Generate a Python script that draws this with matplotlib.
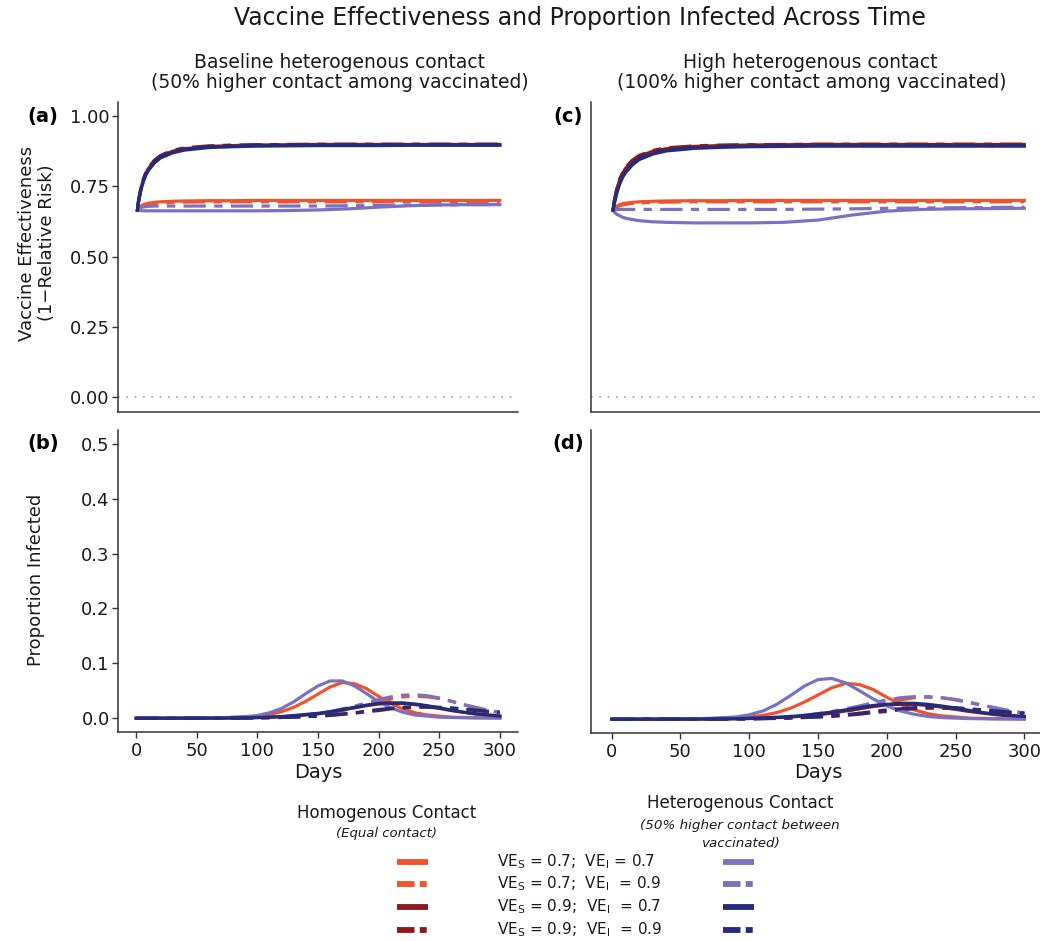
import numpy as np
import matplotlib
matplotlib.use("Agg")
import matplotlib.pyplot as plt

plt.rcParams['font.family'] = ['DejaVu Sans']
plt.rcParams['mathtext.fontset'] = 'dejavusans'

# ---------------- data ----------------
days_ve = [1, 2, 4, 6, 8, 10, 15, 20, 30, 40, 60, 80, 100, 125, 150, 175, 200, 225, 250, 275, 300]

# homogenous contact (same in both columns)
ve_hom_77 = [0.665, 0.672, 0.680, 0.685, 0.688, 0.690, 0.693, 0.695, 0.697, 0.698, 0.699, 0.699, 0.700, 0.700, 0.700, 0.700, 0.700, 0.700, 0.700, 0.700, 0.700]
ve_hom_79 = [0.665, 0.670, 0.677, 0.681, 0.684, 0.686, 0.689, 0.691, 0.693, 0.694, 0.695, 0.695, 0.695, 0.695, 0.695, 0.695, 0.695, 0.695, 0.695, 0.695, 0.695]
ve_hom_97 = [0.665, 0.700, 0.745, 0.775, 0.797, 0.813, 0.840, 0.857, 0.875, 0.884, 0.892, 0.895, 0.897, 0.898, 0.899, 0.899, 0.899, 0.899, 0.899, 0.899, 0.899]
ve_hom_99 = [0.665, 0.702, 0.748, 0.778, 0.800, 0.816, 0.843, 0.860, 0.878, 0.887, 0.894, 0.897, 0.898, 0.899, 0.900, 0.900, 0.900, 0.900, 0.900, 0.900, 0.900]

# heterogenous contact, baseline (panel a)
ve_base_77 = [0.665, 0.664, 0.664, 0.663, 0.663, 0.663, 0.663, 0.663, 0.663, 0.663, 0.663, 0.663, 0.663, 0.664, 0.666, 0.670, 0.676, 0.681, 0.684, 0.685, 0.685]
ve_base_79 = [0.665, 0.670, 0.675, 0.677, 0.678, 0.679, 0.680, 0.680, 0.680, 0.680, 0.680, 0.680, 0.680, 0.680, 0.680, 0.681, 0.682, 0.683, 0.684, 0.685, 0.685]
ve_base_97 = [0.665, 0.695, 0.738, 0.768, 0.790, 0.806, 0.833, 0.851, 0.869, 0.879, 0.888, 0.891, 0.893, 0.894, 0.895, 0.895, 0.895, 0.896, 0.896, 0.896, 0.896]
ve_base_99 = [0.665, 0.698, 0.742, 0.772, 0.794, 0.810, 0.837, 0.855, 0.873, 0.883, 0.891, 0.894, 0.896, 0.897, 0.898, 0.898, 0.898, 0.898, 0.898, 0.898, 0.898]

# heterogenous contact, high (panel c)
ve_high_77 = [0.665, 0.658, 0.650, 0.645, 0.640, 0.637, 0.632, 0.628, 0.624, 0.622, 0.620, 0.620, 0.620, 0.622, 0.630, 0.648, 0.662, 0.668, 0.670, 0.671, 0.672]
ve_high_79 = [0.665, 0.667, 0.668, 0.668, 0.668, 0.668, 0.668, 0.668, 0.668, 0.668, 0.668, 0.668, 0.668, 0.668, 0.669, 0.670, 0.672, 0.673, 0.674, 0.675, 0.676]
ve_high_97 = [0.665, 0.690, 0.730, 0.760, 0.782, 0.798, 0.826, 0.845, 0.865, 0.876, 0.885, 0.889, 0.891, 0.892, 0.893, 0.893, 0.893, 0.893, 0.893, 0.893, 0.893]
ve_high_99 = [0.665, 0.693, 0.735, 0.765, 0.787, 0.803, 0.831, 0.850, 0.869, 0.880, 0.888, 0.891, 0.893, 0.894, 0.895, 0.895, 0.895, 0.895, 0.895, 0.895, 0.895]

days_inf = [0, 40, 70, 90, 100, 110, 120, 130, 140, 150, 160, 170, 180, 190, 200, 210, 220, 230, 240, 250, 260, 270, 280, 290, 300]

inf_hom_77 = [0, 0.0002, 0.0008, 0.002, 0.004, 0.007, 0.012, 0.020, 0.031, 0.044, 0.057, 0.065, 0.063, 0.054, 0.040, 0.027, 0.017, 0.010, 0.006, 0.004, 0.002, 0.0015, 0.001, 0.0007, 0.0005]
inf_hom_79 = [0, 0.0001, 0.0003, 0.0006, 0.001, 0.0015, 0.002, 0.003, 0.005, 0.007, 0.010, 0.014, 0.019, 0.024, 0.030, 0.035, 0.039, 0.040, 0.039, 0.036, 0.031, 0.025, 0.020, 0.015, 0.011]
inf_hom_97 = [0, 0.0001, 0.0004, 0.0008, 0.0012, 0.002, 0.003, 0.004, 0.006, 0.008, 0.011, 0.015, 0.019, 0.023, 0.026, 0.027, 0.027, 0.025, 0.022, 0.018, 0.014, 0.011, 0.008, 0.006, 0.004]
inf_hom_99 = [0, 0.0001, 0.0002, 0.0004, 0.0006, 0.001, 0.0014, 0.002, 0.003, 0.004, 0.005, 0.007, 0.009, 0.012, 0.014, 0.017, 0.019, 0.020, 0.020, 0.019, 0.018, 0.016, 0.014, 0.012, 0.010]

inf_base_77 = [0, 0.0002, 0.001, 0.003, 0.005, 0.010, 0.018, 0.030, 0.045, 0.059, 0.068, 0.068, 0.059, 0.045, 0.030, 0.019, 0.011, 0.006, 0.004, 0.002, 0.0015, 0.001, 0.0007, 0.0005, 0.0004]
inf_base_79 = [0, 0.0001, 0.0004, 0.0008, 0.0012, 0.002, 0.003, 0.004, 0.006, 0.009, 0.012, 0.017, 0.022, 0.028, 0.034, 0.039, 0.042, 0.043, 0.041, 0.037, 0.031, 0.025, 0.019, 0.014, 0.010]
inf_base_97 = [0, 0.0001, 0.0004, 0.0009, 0.0014, 0.002, 0.003, 0.005, 0.007, 0.009, 0.012, 0.016, 0.020, 0.024, 0.027, 0.028, 0.028, 0.026, 0.023, 0.019, 0.015, 0.011, 0.008, 0.006, 0.004]
inf_base_99 = [0, 0.0001, 0.0002, 0.0005, 0.0007, 0.0011, 0.0016, 0.0023, 0.003, 0.004, 0.006, 0.008, 0.010, 0.013, 0.016, 0.018, 0.020, 0.021, 0.021, 0.020, 0.019, 0.017, 0.015, 0.013, 0.011]

inf_high_77 = [0, 0.0003, 0.0015, 0.004, 0.008, 0.015, 0.027, 0.043, 0.060, 0.072, 0.074, 0.066, 0.052, 0.037, 0.024, 0.015, 0.009, 0.005, 0.003, 0.002, 0.0012, 0.0008, 0.0005, 0.0004, 0.0003]
inf_high_79 = [0, 0.0001, 0.0005, 0.001, 0.0015, 0.0025, 0.0035, 0.005, 0.007, 0.010, 0.014, 0.019, 0.024, 0.030, 0.035, 0.039, 0.041, 0.041, 0.039, 0.035, 0.030, 0.025, 0.020, 0.015, 0.011]
inf_high_97 = [0, 0.0001, 0.0005, 0.001, 0.0016, 0.0025, 0.0035, 0.005, 0.007, 0.010, 0.013, 0.017, 0.021, 0.025, 0.027, 0.029, 0.029, 0.027, 0.024, 0.020, 0.016, 0.012, 0.009, 0.007, 0.005]
inf_high_99 = [0, 0.0001, 0.0002, 0.0005, 0.0008, 0.0012, 0.0018, 0.0025, 0.0035, 0.0045, 0.006, 0.008, 0.011, 0.014, 0.017, 0.019, 0.021, 0.022, 0.022, 0.021, 0.019, 0.017, 0.015, 0.013, 0.011]

scenario_labels = ["VE$_\\mathregular{S}$ = 0.7;  VE$_\\mathregular{I}$ = 0.7",
                   "VE$_\\mathregular{S}$ = 0.7;  VE$_\\mathregular{I}$  = 0.9",
                   "VE$_\\mathregular{S}$ = 0.9;  VE$_\\mathregular{I}$  = 0.7",
                   "VE$_\\mathregular{S}$ = 0.9;  VE$_\\mathregular{I}$  = 0.9"]

# ---------------- styles ----------------
hom_colors = ["#F0522B", "#F0522B", "#8A1A1D", "#8A1A1D"]
het_colors = ["#7A72C0", "#7A72C0", "#232B7C", "#232B7C"]
dotdash = (0, (7, 2.6, 2.6, 2.6))
styles = ["-", dotdash, "-", dotdash]
LW = 2.3
TXT = "#1A1A1A"

W, H = 1040, 941
fig = plt.figure(figsize=(W / 100, H / 100), dpi=100)

# overlay in pixel coordinates for titles and legend
ov = fig.add_axes([0, 0, 1, 1])
ov.set_xlim(0, W)
ov.set_ylim(H, 0)
ov.axis("off")


def rect(l, r, t, b):
    return [l / W, 1 - b / H, (r - l) / W, (b - t) / H]


def style_ax(ax, show_y, show_x, ylim, yticks, yfmt):
    ax.set_xlim(-15, 315)
    ax.set_ylim(*ylim)
    for s in ["top", "right"]:
        ax.spines[s].set_visible(False)
    for s in ["left", "bottom"]:
        ax.spines[s].set_color("#333333")
        ax.spines[s].set_linewidth(1.1)
    ax.set_facecolor("none")
    if show_x:
        ax.set_xticks([0, 50, 100, 150, 200, 250, 300])
        ax.tick_params(axis="x", labelsize=13, colors="#333333", labelcolor=TXT, length=4, width=1, pad=3)
        ax.set_xlabel("Days", fontsize=14, color=TXT, labelpad=2)
    else:
        ax.set_xticks([])
    if show_y:
        ax.set_yticks(yticks)
        ax.set_yticklabels([yfmt.format(v) for v in yticks])
        ax.tick_params(axis="y", labelsize=13, colors="#333333", labelcolor=TXT, length=4, width=1, pad=2)
    else:
        ax.set_yticks([])


panels = [
    ("a", rect(118, 518, 102, 412), [ve_base_77, ve_base_79, ve_base_97, ve_base_99], True),
    ("c", rect(591, 1045, 102, 412), [ve_high_77, ve_high_79, ve_high_97, ve_high_99], False),
]
hom_ve = [ve_hom_77, ve_hom_79, ve_hom_97, ve_hom_99]
for name, r, het, show_y in panels:
    ax = fig.add_axes(r)
    ax.axhline(0, color="#A0A0A0", lw=1.2, ls=(0, (1, 4)))
    for i in range(4):
        ax.plot(days_ve, hom_ve[i], color=hom_colors[i], ls=styles[i], lw=LW)
    for i in range(4):
        ax.plot(days_ve, het[i], color=het_colors[i], ls=styles[i], lw=LW)
    style_ax(ax, show_y, False, (-0.0525, 1.05), [0, 0.25, 0.5, 0.75, 1.0], "{:.2f}")

hom_inf = [inf_hom_77, inf_hom_79, inf_hom_97, inf_hom_99]
panels = [
    ("b", rect(118, 518, 430, 732), [inf_base_77, inf_base_79, inf_base_97, inf_base_99], True),
    ("d", rect(591, 1045, 430, 733), [inf_high_77, inf_high_79, inf_high_97, inf_high_99], False),
]
for name, r, het, show_y in panels:
    ax = fig.add_axes(r)
    for i in range(4):
        ax.plot(days_inf, hom_inf[i], color=hom_colors[i], ls=styles[i], lw=LW)
    for i in range(4):
        ax.plot(days_inf, het[i], color=het_colors[i], ls=styles[i], lw=LW)
    style_ax(ax, show_y, True, (-0.025, 0.525), [0, 0.1, 0.2, 0.3, 0.4, 0.5], "{:.1f}")

# titles and labels
ov.text(580, 18, "Vaccine Effectiveness and Proportion Infected Across Time", fontsize=17,
        color=TXT, ha="center", va="center")
ov.text(340, 62, "Baseline heterogenous contact", fontsize=13.5, color=TXT, ha="center", va="center")
ov.text(340, 82, "(50% higher contact among vaccinated)", fontsize=13.5, color=TXT, ha="center", va="center")
ov.text(810, 62, "High heterogenous contact", fontsize=13.5, color=TXT, ha="center", va="center")
ov.text(812, 82, "(100% higher contact among vaccinated)", fontsize=13.5, color=TXT, ha="center", va="center")
for lab, x, y in [("(a)", 43, 116), ("(b)", 43, 443), ("(c)", 568, 116), ("(d)", 568, 443)]:
    ov.text(x, y, lab, fontsize=14, fontweight="bold", color="black", ha="center", va="center")
ov.text(37, 243, "Vaccine Effectiveness\n(1\u2212Relative Risk)", fontsize=13, color=TXT,
        rotation=90, ha="center", va="center", linespacing=1.15)
ov.text(36, 580, "Proportion Infected", fontsize=13, color=TXT, rotation=90, ha="center", va="center")

# legend
ov.text(387, 813, "Homogenous Contact", fontsize=12, color=TXT, ha="center", va="center")
ov.text(387, 834, "(Equal contact)", fontsize=9.5, style="italic", color=TXT, ha="center", va="center")
ov.text(740, 803, "Heterogenous Contact", fontsize=12, color=TXT, ha="center", va="center")
ov.text(740, 825, "(50% higher contact between", fontsize=9.7, style="italic", color=TXT, ha="center", va="center")
ov.text(740, 843, "vaccinated)", fontsize=9.7, style="italic", color=TXT, ha="center", va="center")
key_dash = (0, (3.0, 0.9, 1.2, 10))
key_styles = ["-", key_dash, "-", key_dash]
for i, y in enumerate([862, 884, 907, 930]):
    ov.plot([397, 428], [y, y], color=hom_colors[i], lw=4.2, ls=key_styles[i], solid_capstyle="butt", dash_capstyle="butt")
    ov.plot([723, 754], [y, y], color=het_colors[i], lw=4.2, ls=key_styles[i], solid_capstyle="butt", dash_capstyle="butt")
    ov.text(497, y, scenario_labels[i], fontsize=11, color=TXT, ha="left", va="center")

fig.savefig("out.png", dpi=100)
